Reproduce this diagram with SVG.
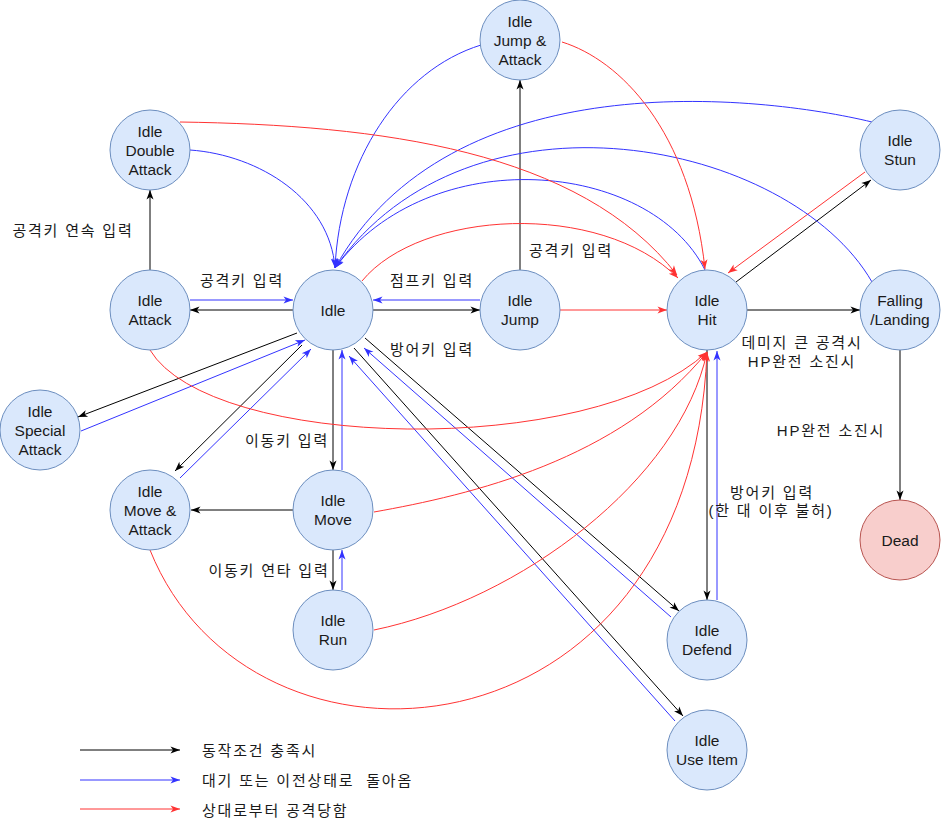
<svg xmlns="http://www.w3.org/2000/svg" width="942" height="822" viewBox="0 0 942 822">
<style>
.n{fill:#dae8fc;stroke:#6c8ebf;stroke-width:1}
.d{fill:#f8cecc;stroke:#b85450;stroke-width:1}
.t{font-family:"Liberation Sans","Noto Sans CJK KR",sans-serif;font-size:15.5px;fill:#1a1a1a;text-anchor:middle;dominant-baseline:central}
.l{font-family:"Liberation Sans","Noto Sans CJK KR",sans-serif;font-size:15px;fill:#1a1a1a;text-anchor:middle;dominant-baseline:central;letter-spacing:1.8px}
.lg{font-family:"Liberation Sans","Noto Sans CJK KR",sans-serif;font-size:15px;fill:#1a1a1a;dominant-baseline:central;white-space:pre;letter-spacing:1.8px}
.k{fill:none;stroke:#000;stroke-width:1;marker-end:url(#ak)}
.b{fill:none;stroke:#3333ff;stroke-width:1;marker-end:url(#ab)}
.r{fill:none;stroke:#ff3333;stroke-width:1;marker-end:url(#ar)}
</style>
<defs>
<marker id="ak" markerUnits="userSpaceOnUse" markerWidth="11" markerHeight="9" refX="10" refY="4" orient="auto" overflow="visible"><path d="M0.5,0.5 L10,4 L0.5,7.5 L3,4 Z" fill="#000"/></marker>
<marker id="ab" markerUnits="userSpaceOnUse" markerWidth="11" markerHeight="9" refX="10" refY="4" orient="auto" overflow="visible"><path d="M0.5,0.5 L10,4 L0.5,7.5 L3,4 Z" fill="#3333ff"/></marker>
<marker id="ar" markerUnits="userSpaceOnUse" markerWidth="11" markerHeight="9" refX="10" refY="4" orient="auto" overflow="visible"><path d="M0.5,0.5 L10,4 L0.5,7.5 L3,4 Z" fill="#ff3333"/></marker>
</defs>
<rect width="942" height="822" fill="#fff"/>
<g id="connectors">
<path class="k" d="M150,270 L150,190"/>
<path class="k" d="M293,310 L190,310"/>
<path class="b" d="M190,300 L293,300"/>
<path class="k" d="M373,310 L480,310"/>
<path class="b" d="M480,300 L373,300"/>
<path class="k" d="M520,270 L520,80"/>
<path class="r" d="M560,310 L667,310"/>
<path class="k" d="M747,310 L860,310"/>
<path class="k" d="M736,282 L871,180"/>
<path class="r" d="M865,172 L728,273"/>
<path class="k" d="M900,350 L900,500"/>
<path class="k" d="M333,350 L333,470"/>
<path class="b" d="M342,470 L342,350"/>
<path class="k" d="M333,550 L333,590"/>
<path class="b" d="M342,590 L342,550"/>
<path class="k" d="M293,510 L191,510"/>
<path class="k" d="M297,333 L78,417"/>
<path class="b" d="M81,431 L305,340"/>
<path class="k" d="M302,345 L175,471"/>
<path class="b" d="M180,478 L311,349"/>
<path class="k" d="M365,338 L679,611"/>
<path class="b" d="M671,617 L364,348"/>
<path class="k" d="M354,348 L683,716"/>
<path class="b" d="M675,721 L349,356"/>
<path class="k" d="M707,350 L707,600"/>
<path class="b" d="M717,600 L717,351"/>
<path class="b" d="M190,150 C260,155 330,200 335,268"/>
<path class="b" d="M481,45 C400,70 340,160 335,268"/>
<path class="b" d="M872,122 C760,95 450,60 335,268"/>
<path class="b" d="M872,282 C790,140 470,75 335,268"/>
<path class="b" d="M705,270 C650,160 430,140 335,268"/>
<path class="r" d="M362,281 C420,210 600,200 678,278"/>
<path class="r" d="M180,122 C380,125 580,150 677,275"/>
<path class="r" d="M562,42 C620,60 690,130 705,269"/>
<path class="r" d="M150,350 C210,450 590,460 707,352"/>
<path class="r" d="M374,512 C470,495 620,460 707,352"/>
<path class="r" d="M374,630 C520,600 680,480 707,352"/>
<path class="r" d="M150,550 C250,800 690,770 707,352"/>
<path class="k" d="M80,750 L180,750"/>
<path class="b" d="M80,780 L180,780"/>
<path class="r" d="M80,809 L180,809"/>
</g>
<g id="labels">
<text class="l" x="73" y="230">공격키 연속 입력</text>
<text class="l" x="242" y="280">공격키 입력</text>
<text class="l" x="432" y="280">점프키 입력</text>
<text class="l" x="432" y="349">방어키 입력</text>
<text class="l" x="571" y="250">공격키 입력</text>
<text class="l" x="802" y="342">데미지 큰 공격시</text>
<text class="l" x="802" y="361">HP완전 소진시</text>
<text class="l" x="831" y="430">HP완전 소진시</text>
<text class="l" x="772" y="492">방어키 입력</text>
<text class="l" x="771" y="510">(한 대 이후 불허)</text>
<text class="l" x="287" y="440">이동키 입력</text>
<text class="l" x="269" y="570">이동키 연타 입력</text>
<text class="lg" x="202" y="750">동작조건 충족시</text>
<text class="lg" x="202" y="780">대기 또는 이전상태로  돌아옴</text>
<text class="lg" x="202" y="810">상대로부터 공격당함</text>
</g>
<g id="node-jump-attack"><circle class="n" cx="520" cy="40" r="40"/><text class="t" x="520" y="21">Idle</text><text class="t" x="520" y="40">Jump &amp;</text><text class="t" x="520" y="59">Attack</text></g>
<g id="node-double-attack"><circle class="n" cx="150" cy="150" r="40"/><text class="t" x="150" y="131">Idle</text><text class="t" x="150" y="150">Double</text><text class="t" x="150" y="169">Attack</text></g>
<g id="node-stun"><circle class="n" cx="900" cy="150" r="40"/><text class="t" x="900" y="140.5">Idle</text><text class="t" x="900" y="159.5">Stun</text></g>
<g id="node-attack"><circle class="n" cx="150" cy="310" r="40"/><text class="t" x="150" y="300.5">Idle</text><text class="t" x="150" y="319.5">Attack</text></g>
<g id="node-idle"><circle class="n" cx="333" cy="310" r="40"/><text class="t" x="333" y="310">Idle</text></g>
<g id="node-jump"><circle class="n" cx="520" cy="310" r="40"/><text class="t" x="520" y="300.5">Idle</text><text class="t" x="520" y="319.5">Jump</text></g>
<g id="node-hit"><circle class="n" cx="707" cy="310" r="40"/><text class="t" x="707" y="300.5">Idle</text><text class="t" x="707" y="319.5">Hit</text></g>
<g id="node-falling"><circle class="n" cx="900" cy="310" r="40"/><text class="t" x="900" y="300.5">Falling</text><text class="t" x="900" y="319.5">/Landing</text></g>
<g id="node-special-attack"><circle class="n" cx="40" cy="430" r="40"/><text class="t" x="40" y="411">Idle</text><text class="t" x="40" y="430">Special</text><text class="t" x="40" y="449">Attack</text></g>
<g id="node-move-attack"><circle class="n" cx="150" cy="510" r="40"/><text class="t" x="150" y="491">Idle</text><text class="t" x="150" y="510">Move &amp;</text><text class="t" x="150" y="529">Attack</text></g>
<g id="node-move"><circle class="n" cx="333" cy="510" r="40"/><text class="t" x="333" y="500.5">Idle</text><text class="t" x="333" y="519.5">Move</text></g>
<g id="node-dead"><circle class="d" cx="900" cy="540" r="40"/><text class="t" x="900" y="540">Dead</text></g>
<g id="node-run"><circle class="n" cx="333" cy="630" r="40"/><text class="t" x="333" y="620.5">Idle</text><text class="t" x="333" y="639.5">Run</text></g>
<g id="node-defend"><circle class="n" cx="707" cy="640" r="40"/><text class="t" x="707" y="630.5">Idle</text><text class="t" x="707" y="649.5">Defend</text></g>
<g id="node-use-item"><circle class="n" cx="707" cy="750" r="40"/><text class="t" x="707" y="740.5">Idle</text><text class="t" x="707" y="759.5">Use Item</text></g>
</svg>
